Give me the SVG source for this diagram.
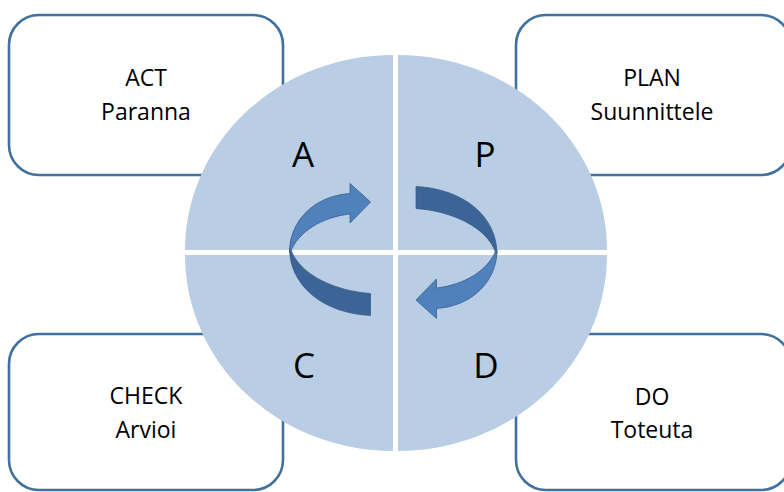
<svg xmlns="http://www.w3.org/2000/svg" width="784" height="492" viewBox="0 0 784 492">
  <defs>
    <style>
      .box { fill: #ffffff; stroke: #41719C; stroke-width: 2.6; }
      .quad { fill: #B9CDE5; }
      .label { font-family: "Open Sans", "Liberation Sans", sans-serif; font-size: 23px; fill: #000000; text-anchor: middle; }
      .letter { font-family: "Open Sans", "Liberation Sans", sans-serif; font-size: 35px; fill: #000000; text-anchor: middle; }
      .front { fill: #4F81BD; stroke: #385D8A; stroke-width: 0.8; stroke-linejoin: round; }
      .back { fill: #3C6496; stroke: #385D8A; stroke-width: 0.8; stroke-linejoin: round; }
    </style>
    <!-- one half of the cycle: a ribbon seen in perspective, back band then front band with head -->
    <g id="halfTurn">
      <path class="back" d="M 289.5,248 C 289.5,285 322,313 370.5,315.5 L 370.5,293.5 C 335,291 300,275 291,250 Z"/>
      <path class="front" d="M 350,193.5 L 350,183.5 L 370.5,202 L 350,223 L 350,214 C 322,217 298,232 290.5,252 L 289.5,252 C 289.5,222 313,196 350,193.5 Z"/>
    </g>
  </defs>

  <!-- corner boxes -->
  <g id="act">
    <rect class="box" x="9" y="15" width="274" height="160" rx="30" ry="30"/>
    <text class="label" x="146" y="86">ACT</text>
    <text class="label" x="146" y="120">Paranna</text>
  </g>
  <g id="plan">
    <rect class="box" x="516" y="15" width="275" height="160" rx="30" ry="30"/>
    <text class="label" x="652" y="86">PLAN</text>
    <text class="label" x="652" y="120">Suunnittele</text>
  </g>
  <g id="check">
    <rect class="box" x="9" y="334" width="274" height="156" rx="30" ry="30"/>
    <text class="label" x="146" y="404">CHECK</text>
    <text class="label" x="146" y="438">Arvioi</text>
  </g>
  <g id="do">
    <rect class="box" x="516" y="334" width="275" height="156" rx="30" ry="30"/>
    <text class="label" x="652" y="405">DO</text>
    <text class="label" x="652" y="438">Toteuta</text>
  </g>

  <!-- central cycle: four quadrants -->
  <g id="quadA">
    <path class="quad" d="M 393,250 L 185,250 A 208,195 0 0 1 393,55 Z"/>
    <text class="letter" x="303" y="167">A</text>
  </g>
  <g id="quadP">
    <path class="quad" d="M 398,250 L 398,55 A 209,195 0 0 1 607,250 Z"/>
    <text class="letter" x="485" y="167">P</text>
  </g>
  <g id="quadC">
    <path class="quad" d="M 393,255 L 393,451 A 208,196 0 0 1 185,255 Z"/>
    <text class="letter" x="304" y="378">C</text>
  </g>
  <g id="quadD">
    <path class="quad" d="M 398,255 L 607,255 A 209,196 0 0 1 398,451 Z"/>
    <text class="letter" x="486" y="378">D</text>
  </g>

  <!-- circular arrows -->
  <g id="connectors">
    <use href="#halfTurn"/>
    <use href="#halfTurn" transform="rotate(180 393.25 251)"/>
  </g>
</svg>
